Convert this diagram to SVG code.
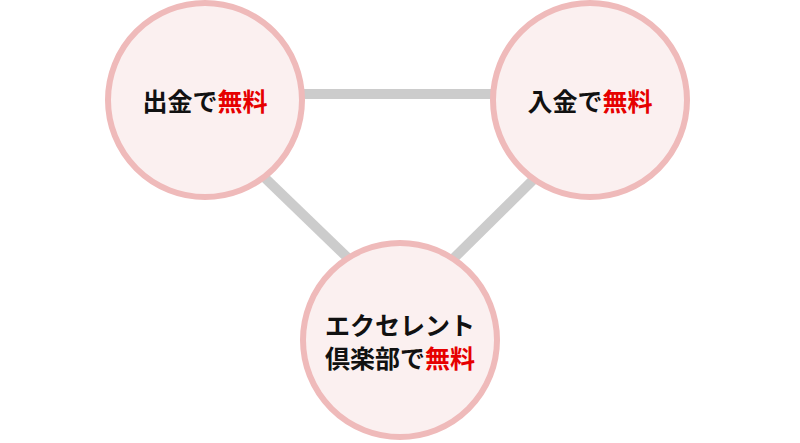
<svg xmlns="http://www.w3.org/2000/svg" width="800" height="443" viewBox="0 0 800 443">
<style>
.c{fill:#fbf0f0;stroke:#efbaba;stroke-width:6}
.t{font-family:"Noto Sans CJK JP","Noto Sans",sans-serif;font-weight:bold;font-size:25px;fill:#111;text-anchor:middle}
.r{fill:#e60000}
.l{stroke:#cccccc;stroke-width:10}
</style>
<rect width="800" height="443" fill="#fff"/>
<g id="connectors">
<line class="l" x1="300" y1="94" x2="495" y2="94"/>
<line class="l" x1="265" y1="178" x2="352" y2="262"/>
<line class="l" x1="533" y1="180" x2="450" y2="262"/>
</g>
<g id="n1"><circle class="c" cx="205" cy="100" r="97"/><text class="t" x="205" y="111">出金で<tspan class="r">無料</tspan></text></g>
<g id="n2"><circle class="c" cx="590" cy="100" r="97"/><text class="t" x="590" y="111">入金で<tspan class="r">無料</tspan></text></g>
<g id="n3"><circle class="c" cx="400" cy="340" r="97"/><text class="t" x="400" y="335">エクセレント</text><text class="t" x="400" y="368">倶楽部で<tspan class="r">無料</tspan></text></g>
</svg>
